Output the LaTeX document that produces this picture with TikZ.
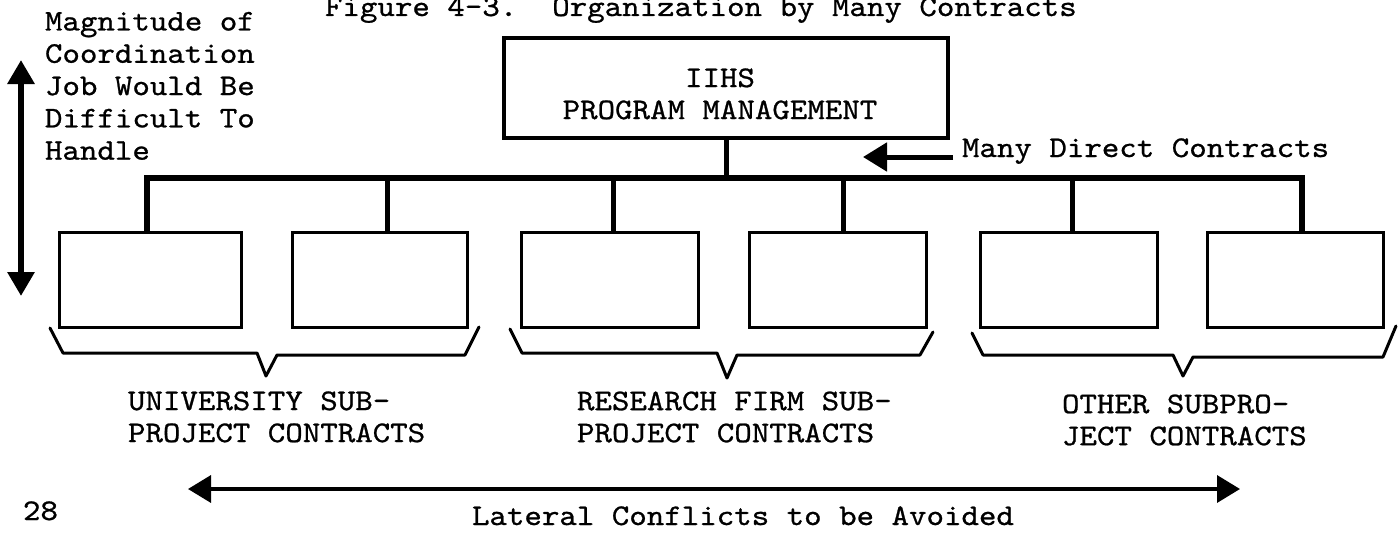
\documentclass[tikz,border=0pt]{standalone}
\usepackage{fontspec}
\newfontfamily\tw{lmmono10-regular.otf}[FakeStretch=1.11,FakeBold=0.8]
\usetikzlibrary{arrows.meta}
\begin{document}
\begin{tikzpicture}[x=1pt,y=-1pt,
  txt/.style={font=\tw\frenchspacing\fontsize{30}{32}\selectfont, inner sep=0pt, outer sep=0pt},
  cbox/.style={draw, line width=3pt, minimum height=95pt, inner sep=0pt},
  topbox/.style={draw, line width=3.5pt, minimum width=444pt, minimum height=100pt, inner sep=0pt},
  bus/.style={line width=6pt, line join=miter},
  drop/.style={line width=5pt},
  brace/.style={line width=3pt, line join=round, line cap=round},
  dblv/.style={line width=6pt, {Triangle[length=24pt,width=26pt]}-{Triangle[length=24pt,width=26pt]}},
  dblh/.style={line width=3.5pt, {Triangle[length=23pt,width=27pt]}-{Triangle[length=23pt,width=27pt]}},
  single/.style={line width=5pt, -{Triangle[length=24pt,width=28pt]}}
]
\fill[white] (0,0) rectangle (1398,538);
\useasboundingbox (0,0) rectangle (1398,538);

% title and side text
\node[txt, anchor=base west] (title) at (325,16) {Figure 4-3.\ \ Organization by Many Contracts};
\node[txt, align=left, anchor=west, font=\tw\fontsize{30}{32.3}\selectfont] (mag) at (45,85.9)
  {Magnitude of\\Coordination\\Job Would Be\\Difficult To\\Handle};
\coordinate (vtop) at (21,60);
\coordinate (vbot) at (21,296);
\draw[dblv] (vtop) -- (vbot);

% top box
\node[topbox] (top) at (726,88) {};
\node[txt, align=center] (toplabel) at (720,93.9) {IIHS\\PROGRAM MANAGEMENT};

% sub-project boxes
\node[cbox, minimum width=182pt] (b1) at (150,279.5) {};
\node[cbox, minimum width=175pt] (b2) at (379.5,279.5) {};
\node[cbox, minimum width=177pt] (b3) at (609.5,279.5) {};
\node[cbox, minimum width=177pt] (b4) at (837.5,279.5) {};
\node[cbox, minimum width=177pt] (b5) at (1068.5,279.5) {};
\node[cbox, minimum width=176pt] (b6) at (1295,279.5) {};

% bus and drops
\coordinate (d1) at (147,178);
\coordinate (d2) at (387,178);
\coordinate (d3) at (613,178);
\coordinate (d4) at (843,178);
\coordinate (d5) at (1072,178);
\coordinate (d6) at (1302,178);
\draw[drop] (top.south) -- (top.south |- d1);
\draw[bus] (d1 |- b1.north) -- (d1) -- (d6) -- (d6 |- b6.north);
\draw[drop] (d2) -- (d2 |- b2.north);
\draw[drop] (d3) -- (d3 |- b3.north);
\draw[drop] (d4) -- (d4 |- b4.north);
\draw[drop] (d5) -- (d5 |- b5.north);

% many direct contracts
\node[txt, anchor=base west] (mdc) at (962,157) {Many Direct Contracts};
\coordinate (mdtip) at (863,157);
\draw[single] ([xshift=-9pt]mdc.base west) -- (mdtip);

% braces
\draw[brace] (50,328) -- (63,353) -- (257,353) -- (266,376) -- (277,355) -- (465,355) -- (479,327);
\draw[brace] (510,329) -- (522,353) -- (717,353) -- (727,378) -- (737,355) -- (920,355) -- (933,332);
\draw[brace] (972,333) -- (983,355) -- (1173,355) -- (1183,376) -- (1193,357) -- (1383,357) -- (1396,326);

% group labels
\node[txt, align=left, anchor=west] (g1) at (128,416.9) {UNIVERSITY SUB-\\PROJECT CONTRACTS};
\node[txt, align=left, anchor=west] (g2) at (577,417) {RESEARCH FIRM SUB-\\PROJECT CONTRACTS};
\node[txt, align=left, anchor=west] (g3) at (1062,420) {OTHER SUBPRO-\\JECT CONTRACTS};

% lateral arrow
\coordinate (latL) at (188,489);
\coordinate (latR) at (1240,489);
\draw[dblh] (latL) -- (latR);
\node[txt, anchor=base west] (lat) at (472,525) {Lateral Conflicts to be Avoided};
\node[txt, anchor=base west] (pg) at (23,520) {28};
\end{tikzpicture}
\end{document}
